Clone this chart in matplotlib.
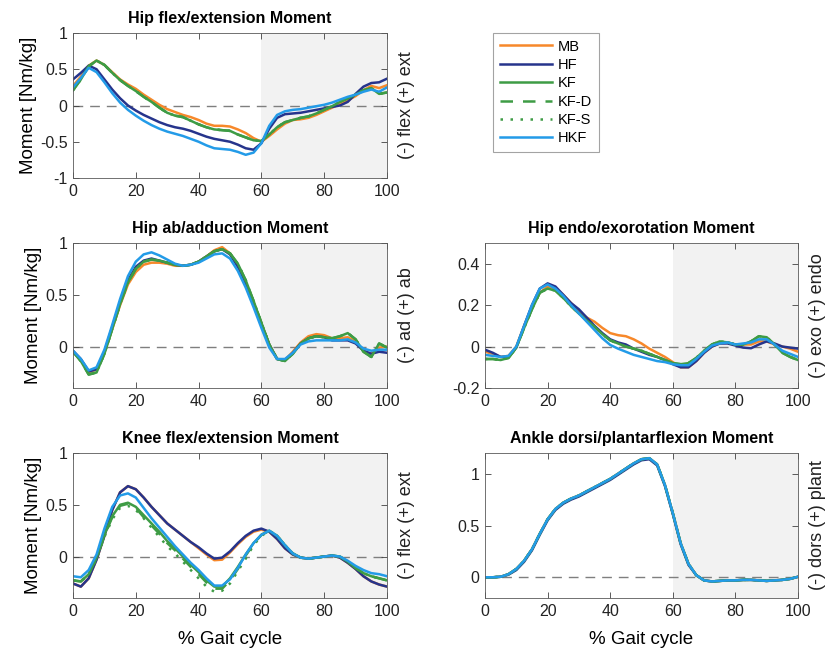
import numpy as np
import matplotlib
matplotlib.use('Agg')
import matplotlib.pyplot as plt
from matplotlib.ticker import FuncFormatter

plt.rcParams['font.family'] = ['Liberation Sans', 'DejaVu Sans']
plt.rcParams['axes.unicode_minus'] = False

# % gait cycle, sampled every 2.5 %
gait = np.arange(0, 100.1, 2.5)

series_names = ['MB', 'HF', 'KF', 'KF-D', 'KF-S', 'HKF']

# Hip flex/extension moment [Nm/kg]
hip_fe_mb = [0.27, 0.40, 0.55, 0.62, 0.56, 0.46, 0.36, 0.29, 0.23, 0.15, 0.08, 0.01, -0.05, -0.09,
             -0.13, -0.16, -0.20, -0.25, -0.28, -0.28, -0.29, -0.33, -0.38, -0.45, -0.50, -0.42,
             -0.33, -0.25, -0.20, -0.19, -0.17, -0.13, -0.08, -0.03, 0.02, 0.07, 0.13, 0.21, 0.27,
             0.24, 0.28]
hip_fe_hf = [0.36, 0.45, 0.55, 0.50, 0.36, 0.22, 0.10, 0.00, -0.07, -0.13, -0.18, -0.23, -0.27,
             -0.30, -0.32, -0.35, -0.39, -0.43, -0.46, -0.48, -0.50, -0.54, -0.59, -0.61, -0.52,
             -0.32, -0.17, -0.12, -0.11, -0.10, -0.08, -0.06, -0.04, -0.02, 0.00, 0.05, 0.16, 0.26,
             0.31, 0.32, 0.37]
hip_fe_kf = [0.21, 0.36, 0.54, 0.62, 0.56, 0.45, 0.35, 0.27, 0.20, 0.12, 0.05, -0.03, -0.10, -0.14,
             -0.16, -0.21, -0.26, -0.30, -0.33, -0.34, -0.35, -0.40, -0.44, -0.48, -0.49, -0.40,
             -0.30, -0.23, -0.20, -0.17, -0.15, -0.11, -0.06, -0.01, 0.05, 0.10, 0.15, 0.21, 0.24,
             0.16, 0.18]
hip_fe_hkf = [0.25, 0.38, 0.52, 0.46, 0.32, 0.17, 0.04, -0.06, -0.14, -0.21, -0.27, -0.32, -0.36,
              -0.39, -0.42, -0.46, -0.50, -0.55, -0.59, -0.60, -0.61, -0.64, -0.68, -0.65, -0.52,
              -0.28, -0.13, -0.08, -0.06, -0.05, -0.03, -0.01, 0.01, 0.04, 0.08, 0.12, 0.15, 0.19,
              0.22, 0.19, 0.25]

# Hip ab/adduction moment [Nm/kg]
hip_aa_mb = [-0.05, -0.13, -0.25, -0.22, -0.06, 0.17, 0.40, 0.60, 0.72, 0.79, 0.81, 0.81, 0.80,
             0.78, 0.78, 0.79, 0.82, 0.87, 0.93, 0.96, 0.90, 0.78, 0.62, 0.43, 0.22, 0.02, -0.12,
             -0.13, -0.05, 0.04, 0.10, 0.12, 0.11, 0.08, 0.08, 0.09, 0.05, -0.04, -0.07, -0.01, 0.00]
hip_aa_hf = [-0.04, -0.12, -0.24, -0.22, -0.05, 0.19, 0.43, 0.64, 0.77, 0.83, 0.85, 0.83, 0.81,
             0.79, 0.78, 0.79, 0.82, 0.87, 0.92, 0.94, 0.89, 0.77, 0.61, 0.42, 0.22, 0.02, -0.12,
             -0.13, -0.06, 0.03, 0.08, 0.10, 0.09, 0.06, 0.06, 0.06, 0.03, -0.04, -0.07, -0.05, -0.06]
hip_aa_kf = [-0.05, -0.14, -0.27, -0.25, -0.07, 0.17, 0.41, 0.62, 0.75, 0.82, 0.84, 0.83, 0.81,
             0.79, 0.78, 0.79, 0.82, 0.87, 0.92, 0.94, 0.90, 0.80, 0.64, 0.44, 0.23, 0.02, -0.12,
             -0.14, -0.07, 0.03, 0.08, 0.10, 0.09, 0.08, 0.10, 0.13, 0.07, -0.05, -0.10, 0.03, -0.01]
hip_aa_hkf = [-0.04, -0.12, -0.23, -0.20, -0.03, 0.21, 0.46, 0.68, 0.82, 0.89, 0.91, 0.88, 0.84,
              0.80, 0.78, 0.79, 0.81, 0.85, 0.89, 0.90, 0.85, 0.73, 0.57, 0.38, 0.18, -0.01, -0.12,
              -0.12, -0.06, 0.02, 0.05, 0.06, 0.06, 0.06, 0.06, 0.07, 0.04, -0.02, -0.04, -0.03, -0.03]

# Hip endo/exorotation moment [Nm/kg]
hip_rot_mb = [-0.025, -0.035, -0.05, -0.045, 0.00, 0.10, 0.19, 0.26, 0.29, 0.28, 0.25, 0.21, 0.17,
              0.14, 0.12, 0.09, 0.065, 0.055, 0.05, 0.035, 0.015, -0.01, -0.03, -0.05, -0.075,
              -0.10, -0.10, -0.07, -0.03, 0.00, 0.015, 0.02, 0.01, 0.01, 0.01, 0.025, 0.025, 0.01,
              0.00, -0.01, -0.025]
hip_rot_hf = [-0.015, -0.03, -0.05, -0.05, -0.005, 0.10, 0.20, 0.28, 0.305, 0.29, 0.25, 0.21, 0.18,
              0.14, 0.10, 0.065, 0.035, 0.02, 0.01, -0.01, -0.025, -0.04, -0.05, -0.065, -0.085,
              -0.10, -0.10, -0.07, -0.03, 0.00, 0.015, 0.015, 0.005, -0.005, -0.008, 0.01, 0.025,
              0.015, 0.00, -0.005, -0.01]
hip_rot_kf = [-0.06, -0.06, -0.065, -0.055, -0.005, 0.09, 0.18, 0.26, 0.28, 0.27, 0.235, 0.195,
              0.16, 0.125, 0.095, 0.06, 0.03, 0.015, 0.00, -0.01, -0.02, -0.035, -0.05, -0.065,
              -0.08, -0.085, -0.08, -0.055, -0.02, 0.01, 0.025, 0.02, 0.01, 0.01, 0.025, 0.05, 0.045,
              0.01, -0.03, -0.05, -0.065]
hip_rot_hkf = [-0.04, -0.045, -0.05, -0.045, 0.00, 0.10, 0.20, 0.28, 0.30, 0.28, 0.245, 0.20, 0.16,
               0.12, 0.08, 0.04, 0.008, -0.01, -0.025, -0.04, -0.05, -0.06, -0.07, -0.075, -0.085,
               -0.09, -0.09, -0.06, -0.025, 0.005, 0.015, 0.02, 0.01, 0.015, 0.02, 0.035, 0.035,
               0.01, -0.02, -0.035, -0.05]

# Knee flex/extension moment [Nm/kg]
knee_mb = [-0.26, -0.29, -0.21, -0.03, 0.20, 0.45, 0.62, 0.68, 0.65, 0.57, 0.48, 0.40, 0.32, 0.26,
           0.20, 0.14, 0.08, 0.02, -0.035, -0.03, 0.04, 0.12, 0.19, 0.24, 0.26, 0.24, 0.17, 0.08,
           0.02, -0.01, -0.02, -0.01, 0.00, 0.01, -0.01, -0.06, -0.12, -0.19, -0.24, -0.27, -0.29]
knee_hf = [-0.26, -0.29, -0.21, -0.03, 0.20, 0.45, 0.62, 0.68, 0.65, 0.57, 0.48, 0.40, 0.32, 0.26,
           0.20, 0.14, 0.09, 0.03, -0.02, -0.01, 0.05, 0.13, 0.20, 0.25, 0.27, 0.24, 0.17, 0.08,
           0.02, -0.01, -0.02, -0.01, 0.00, 0.01, -0.01, -0.06, -0.12, -0.19, -0.24, -0.27, -0.29]
knee_kf = [-0.23, -0.24, -0.17, -0.01, 0.21, 0.39, 0.50, 0.52, 0.48, 0.40, 0.32, 0.24, 0.15, 0.08,
           0.00, -0.08, -0.15, -0.23, -0.29, -0.29, -0.21, -0.10, 0.02, 0.13, 0.21, 0.25, 0.20,
           0.11, 0.03, -0.01, -0.02, -0.01, 0.00, 0.01, 0.00, -0.05, -0.11, -0.16, -0.19, -0.21, -0.23]
knee_kf_d = [-0.23, -0.24, -0.17, -0.01, 0.20, 0.38, 0.49, 0.51, 0.47, 0.38, 0.30, 0.22, 0.13, 0.06,
             -0.02, -0.10, -0.17, -0.25, -0.31, -0.31, -0.23, -0.12, 0.01, 0.12, 0.21, 0.25, 0.20,
             0.11, 0.03, -0.01, -0.02, -0.01, 0.00, 0.01, 0.00, -0.05, -0.11, -0.16, -0.19, -0.21,
             -0.23]
knee_kf_s = [-0.23, -0.24, -0.17, -0.02, 0.19, 0.36, 0.47, 0.49, 0.45, 0.37, 0.28, 0.19, 0.10, 0.03,
             -0.05, -0.13, -0.21, -0.29, -0.34, -0.33, -0.26, -0.14, -0.02, 0.11, 0.20, 0.25, 0.20,
             0.11, 0.03, -0.01, -0.02, -0.01, 0.00, 0.01, 0.00, -0.05, -0.11, -0.16, -0.19, -0.21,
             -0.23]
knee_hkf = [-0.19, -0.20, -0.13, 0.02, 0.27, 0.48, 0.59, 0.61, 0.57, 0.47, 0.37, 0.28, 0.19, 0.10,
            0.02, -0.06, -0.13, -0.21, -0.28, -0.28, -0.22, -0.11, 0.02, 0.13, 0.21, 0.25, 0.20,
            0.11, 0.03, -0.01, -0.02, -0.01, 0.00, 0.01, 0.00, -0.04, -0.09, -0.13, -0.16, -0.17,
            -0.19]

# Ankle dorsi/plantarflexion moment [Nm/kg]
ankle_kf = [0.00, 0.00, 0.005, 0.03, 0.08, 0.16, 0.27, 0.42, 0.56, 0.66, 0.72, 0.76, 0.79, 0.83,
            0.87, 0.91, 0.95, 1.00, 1.05, 1.10, 1.14, 1.15, 1.09, 0.89, 0.62, 0.33, 0.13, 0.02,
            -0.03, -0.04, -0.035, -0.03, -0.03, -0.025, -0.025, -0.03, -0.035, -0.03, -0.025,
            -0.015, 0.005]
ankle_hf = [0.00, 0.00, 0.005, 0.025, 0.07, 0.15, 0.26, 0.41, 0.55, 0.65, 0.71, 0.75, 0.78, 0.82,
            0.86, 0.90, 0.94, 0.99, 1.04, 1.09, 1.13, 1.14, 1.08, 0.88, 0.61, 0.32, 0.12, 0.02,
            -0.03, -0.04, -0.035, -0.03, -0.03, -0.025, -0.025, -0.03, -0.035, -0.03, -0.025,
            -0.015, 0.005]

panels = [
    dict(title='Hip flex/extension Moment', side='(-) flex (+) ext', ylim=(-1, 1),
         yticks=[-1, -0.5, 0, 0.5, 1], pos=(0, 0),
         data=[hip_fe_mb, hip_fe_hf, hip_fe_kf, hip_fe_kf, hip_fe_kf, hip_fe_hkf]),
    dict(title='Hip ab/adduction Moment', side='(-) ad (+) ab', ylim=(-0.4, 1),
         yticks=[0, 0.5, 1], pos=(1, 0),
         data=[hip_aa_mb, hip_aa_hf, hip_aa_kf, hip_aa_kf, hip_aa_kf, hip_aa_hkf]),
    dict(title='Hip endo/exorotation Moment', side='(-) exo (+) endo', ylim=(-0.2, 0.5),
         yticks=[-0.2, 0, 0.2, 0.4], pos=(1, 1),
         data=[hip_rot_mb, hip_rot_hf, hip_rot_kf, hip_rot_kf, hip_rot_kf, hip_rot_hkf]),
    dict(title='Knee flex/extension Moment', side='(-) flex (+) ext', ylim=(-0.4, 1),
         yticks=[0, 0.5, 1], pos=(2, 0),
         data=[knee_mb, knee_hf, knee_kf, knee_kf_d, knee_kf_s, knee_hkf]),
    dict(title='Ankle dorsi/plantarflexion Moment', side='(-) dors (+) plant', ylim=(-0.2, 1.2),
         yticks=[0, 0.5, 1], pos=(2, 1),
         data=[ankle_kf, ankle_hf, ankle_kf, ankle_kf, ankle_kf, ankle_kf]),
]

colors = ['#F7882A', '#26348C', '#3E9C45', '#3E9C45', '#3E9C45', '#239BE8']
styles = ['-', '-', '-', (0, (5, 4)), (0, (1, 3)), '-']
draw_order = [0, 1, 5, 2, 3, 4]

fig = plt.figure(figsize=(8.25, 6.53), dpi=100)
W, H = 825, 653
col_left = [73, 485]
col_width = [314, 313]
row_top = [33, 243, 453]
ax_h = 145

handles = {}
for p in panels:
    r, c = p['pos']
    ax = fig.add_axes([col_left[c] / W, 1 - (row_top[r] + ax_h) / H, col_width[c] / W, ax_h / H])
    ax.axvspan(60, 100, color='#F2F2F2', zorder=0, lw=0)
    ax.axhline(0, color='#7F7F7F', lw=1.0, ls=(0, (7, 5)), zorder=1)
    for i in draw_order:
        ln, = ax.plot(gait, p['data'][i], color=colors[i], ls=styles[i], lw=1.8, zorder=2 + i * 0.1)
        handles[i] = ln
    ax.set_xlim(0, 100)
    ax.set_ylim(*p['ylim'])
    ax.set_xticks([0, 20, 40, 60, 80, 100])
    ax.set_yticks(p['yticks'])
    ax.yaxis.set_major_formatter(FuncFormatter(lambda v, pos: '%g' % v))
    ax.tick_params(direction='in', top=True, right=True, length=4, width=0.6,
                   color='#404040', labelsize=11.5, labelcolor='#222222', pad=4)
    for s in ax.spines.values():
        s.set_color('#5A5A5A')
        s.set_linewidth(0.6)
    ax.set_title(p['title'], fontsize=11.5, fontweight='bold', pad=7)
    ax.text(1.063, 0.5, p['side'], transform=ax.transAxes, rotation=90,
            ha='center', va='center', fontsize=13, color='#222222')
    if c == 0:
        ax.set_ylabel('Moment [Nm/kg]', fontsize=13.5, labelpad=2)
    if r == 2:
        ax.set_xlabel('% Gait cycle', fontsize=13.5, labelpad=9)

leg = fig.legend([handles[i] for i in range(6)], series_names, loc='upper left',
                 bbox_to_anchor=(493 / W, 1 - 33 / H), borderaxespad=0, fontsize=10.5,
                 frameon=True, fancybox=False, handlelength=3.6, labelspacing=0.3,
                 borderpad=0.45, handletextpad=0.4)
leg.get_frame().set_edgecolor('#8C8C8C')
leg.get_frame().set_linewidth(0.8)

fig.savefig('out.png', dpi=100)
